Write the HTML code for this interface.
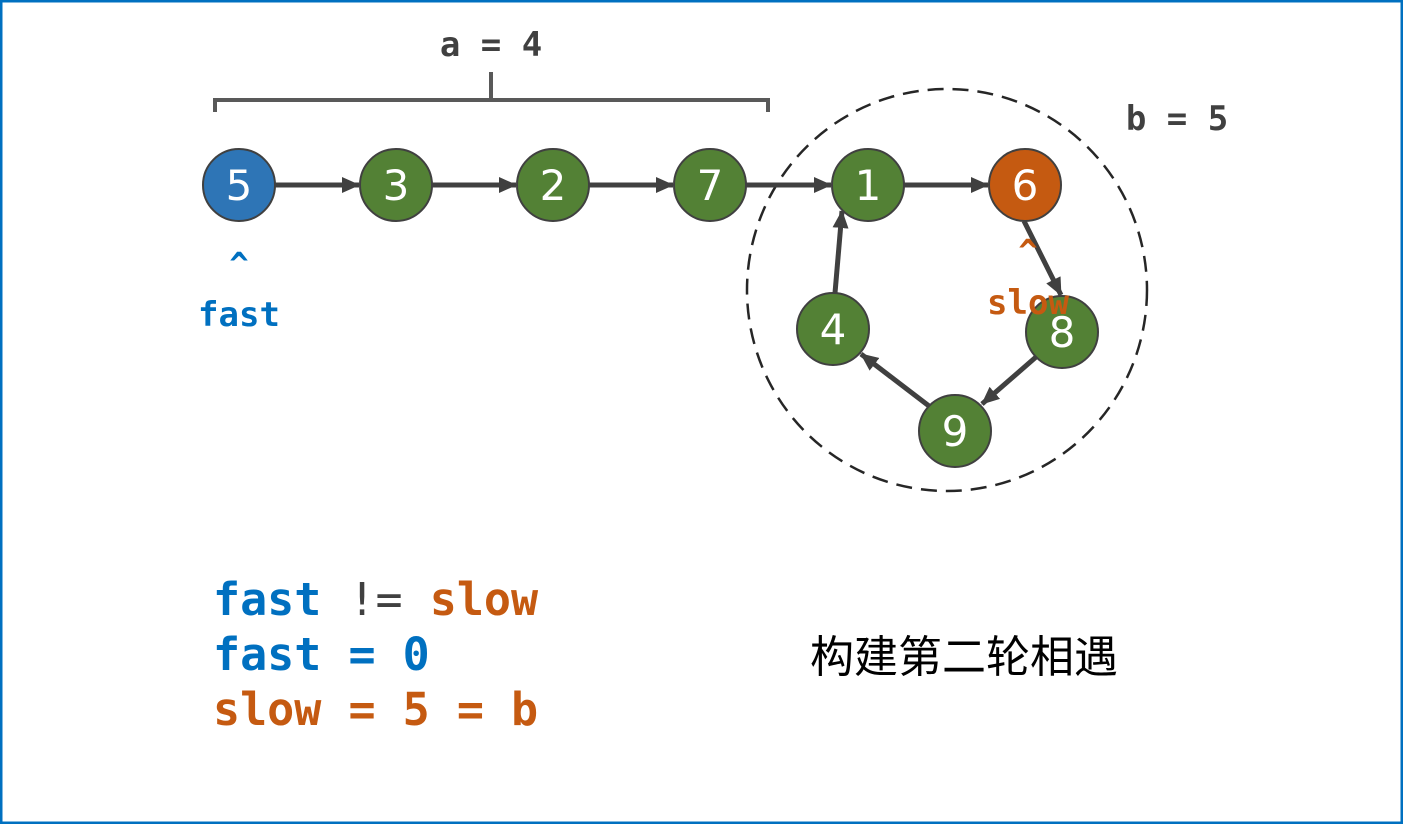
<!DOCTYPE html>
<html><head><meta charset="utf-8"><style>
body{margin:0;background:#fff}
svg{display:block}
.m{font-family:"DejaVu Sans Mono","Liberation Mono",monospace;font-weight:bold}
.n{font-family:"DejaVu Sans","Liberation Sans",sans-serif;font-size:42px;fill:#fff;text-anchor:middle}
</style></head><body>
<svg width="1403" height="824" viewBox="0 0 1403 824" xmlns="http://www.w3.org/2000/svg">
<defs><marker id="a" markerWidth="8" markerHeight="8" refX="7" refY="4" orient="auto" markerUnits="userSpaceOnUse" viewBox="0 0 8 8"><path d="M0,0 L8,4 L0,8z" fill="#404040"/></marker>
<marker id="b" markerWidth="18" markerHeight="16" refX="17" refY="8" orient="auto" markerUnits="userSpaceOnUse"><path d="M0,0 L18,8 L0,16z" fill="#404040"/></marker></defs>
<rect x="1" y="1" width="1401" height="822" fill="#fff" stroke="#0070c0" stroke-width="3"/>
<path d="M215,112 V100 H491 V72 M491,100 H768 V112" fill="none" stroke="#595959" stroke-width="4"/>
<text x="491" y="56" class="m" font-size="34" fill="#404040" text-anchor="middle">a = 4</text>
<text x="1177" y="130" class="m" font-size="34" fill="#404040" text-anchor="middle">b = 5</text>
<ellipse cx="947" cy="290" rx="200" ry="201" fill="none" stroke="#262626" stroke-width="2.5" stroke-dasharray="16,9"/>
<g stroke="#404040" stroke-width="5" marker-end="url(#b)" fill="none">
<line x1="275" y1="185" x2="359" y2="185"/>
<line x1="432" y1="185" x2="516" y2="185"/>
<line x1="589" y1="185" x2="673" y2="185"/>
<line x1="746" y1="185" x2="831" y2="185"/>
<line x1="904" y1="185" x2="988" y2="185"/>
<line x1="1024" y1="221" x2="1061" y2="295"/>
<line x1="1036" y1="357" x2="982" y2="404"/>
<line x1="929" y1="406" x2="861" y2="354"/>
<line x1="835" y1="293" x2="842" y2="211"/>
</g>
<g stroke="#404040" stroke-width="2">
<circle cx="239" cy="185" r="36" fill="#2e75b6"/>
<circle cx="396" cy="185" r="36" fill="#538135"/>
<circle cx="553" cy="185" r="36" fill="#538135"/>
<circle cx="710" cy="185" r="36" fill="#538135"/>
<circle cx="868" cy="185" r="36" fill="#538135"/>
<circle cx="1025" cy="185" r="36" fill="#c55a11"/>
<circle cx="1062" cy="332" r="36" fill="#538135"/>
<circle cx="955" cy="431" r="36" fill="#538135"/>
<circle cx="833" cy="329" r="36" fill="#538135"/>
</g>
<g class="n">
<text x="239" y="200">5</text><text x="396" y="200">3</text><text x="553" y="200">2</text><text x="710" y="200">7</text><text x="868" y="200">1</text><text x="1025" y="200">6</text><text x="1062" y="347">8</text><text x="955" y="446">9</text><text x="833" y="344">4</text>
</g>
<text x="239" y="275" class="m" font-size="32" fill="#0070c0" text-anchor="middle">^</text>
<text x="239" y="326" class="m" font-size="34" fill="#0070c0" text-anchor="middle">fast</text>
<text x="1028" y="262" class="m" font-size="32" fill="#c55a11" text-anchor="middle">^</text>
<text x="1028" y="314" class="m" font-size="34" fill="#c55a11" text-anchor="middle">slow</text>
<g class="m" font-size="45">
<text x="213" y="615"><tspan fill="#0070c0">fast</tspan><tspan fill="#404040" font-weight="normal"> != </tspan><tspan fill="#c55a11">slow</tspan></text>
<text x="213" y="670" fill="#0070c0">fast = 0</text>
<text x="213" y="725" fill="#c55a11">slow = 5  = b</text>
</g>
<text x="964" y="672" font-family="'Noto Sans CJK SC',sans-serif" font-size="44" fill="#000" text-anchor="middle">构建第二轮相遇</text>
</svg>
</body></html>
